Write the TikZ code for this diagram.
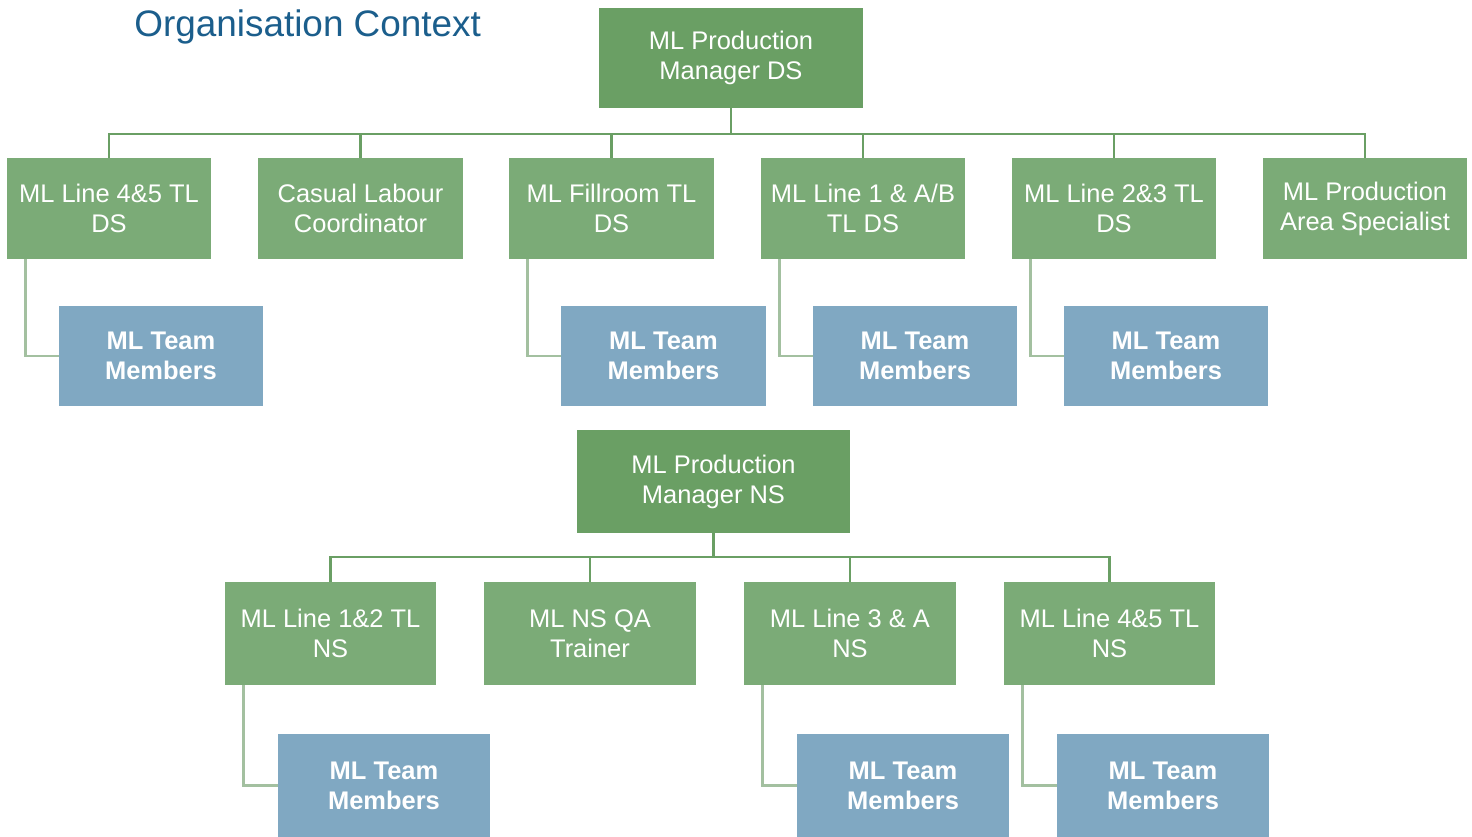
\documentclass[tikz,border=0pt]{standalone}
\usepackage{fontspec}
\setmainfont{Liberation Sans}
\usetikzlibrary{positioning}

\definecolor{mgrgreen}{HTML}{6A9F64}
\definecolor{leadgreen}{HTML}{7BAB77}
\definecolor{teamblue}{HTML}{80A8C2}
\definecolor{sidegreen}{HTML}{A3C0A0}
\definecolor{titleblue}{HTML}{1B5E8C}

\tikzset{
  manager/.style={fill=mgrgreen, text=white, align=center, inner sep=0pt,
    font=\fontsize{14.5}{17}\selectfont},
  lead/.style={fill=leadgreen, text=white, align=center, inner sep=0pt,
    minimum height=2.02cm, font=\fontsize{14.5}{17}\selectfont},
  team/.style={fill=teamblue, text=white, align=center, inner sep=0pt,
    minimum height=2cm, font=\fontsize{14.5}{17}\selectfont\bfseries},
  bus/.style={draw=mgrgreen, line width=1.6pt},
  side/.style={draw=sidegreen, line width=1.6pt}
}

\begin{document}
\begin{tikzpicture}[x=0.02cm, y=-0.02cm]

\useasboundingbox (0,0) rectangle (1472,836);

\node[anchor=base west, inner sep=0pt, text=titleblue, font=\fontsize{21}{24}\selectfont] (title) at (134,36) {Organisation Context};

% day shift
\def\y{0}

\node[manager, minimum width=5.28cm, minimum height=2cm] (mgrds) at (731, \y + 58) {ML Production\\Manager DS};
\coordinate (busds) at (731, \y + 134);

\node[lead, minimum width=4.08cm] (ds1) at (109, \y + 208.5) {ML Line 4\&5 TL\\DS};
\node[lead, minimum width=4.1cm] (ds2) at (360.5, \y + 208.5) {Casual Labour\\Coordinator};
\node[lead, minimum width=4.1cm] (ds3) at (611.5, \y + 208.5) {ML Fillroom TL\\DS};
\node[lead, minimum width=4.08cm] (ds4) at (863, \y + 208.5) {ML Line 1 \& A/B\\TL DS};
\node[lead, minimum width=4.08cm] (ds5) at (1114, \y + 208.5) {ML Line 2\&3 TL\\DS};
\node[lead, minimum width=4.08cm] (ds6) at (1365, \y + 208.5) {ML Production\\Area Specialist};

\node[team, minimum width=4.08cm] (tmds1) at (161, \y + 356) {ML Team\\Members};
\node[team, minimum width=4.1cm] (tmds3) at (663.5, \y + 356) {ML Team\\Members};
\node[team, minimum width=4.08cm] (tmds4) at (915, \y + 356) {ML Team\\Members};
\node[team, minimum width=4.08cm] (tmds5) at (1166, \y + 356) {ML Team\\Members};

\draw[bus] (mgrds) -- (busds);
\draw[bus] (busds) -| (ds1.north);
\draw[bus] (busds) -| (ds2.north);
\draw[bus] (busds) -| (ds3.north);
\draw[bus] (busds) -| (ds4.north);
\draw[bus] (busds) -| (ds5.north);
\draw[bus] (busds) -| (ds6.north);

\draw[side] ([xshift=0.38cm]ds1.south west) |- (tmds1.west);
\draw[side] ([xshift=0.38cm]ds3.south west) |- (tmds3.west);
\draw[side] ([xshift=0.38cm]ds4.south west) |- (tmds4.west);
\draw[side] ([xshift=0.38cm]ds5.south west) |- (tmds5.west);

% night shift
\def\y{423}

\node[manager, minimum width=5.46cm, minimum height=2.06cm] (mgrns) at (713.5, \y + 58.5) {ML Production\\Manager NS};
\coordinate (busns) at (713.5, \y + 134);

\node[lead, minimum width=4.22cm, minimum height=2.06cm] (ns1) at (330.5, \y + 210.5) {ML Line 1\&2 TL\\NS};
\node[lead, minimum width=4.24cm, minimum height=2.06cm] (ns2) at (590, \y + 210.5) {ML NS QA\\Trainer};
\node[lead, minimum width=4.24cm, minimum height=2.06cm] (ns3) at (850, \y + 210.5) {ML Line 3 \& A\\NS};
\node[lead, minimum width=4.22cm, minimum height=2.06cm] (ns4) at (1109.5, \y + 210.5) {ML Line 4\&5 TL\\NS};

\node[team, minimum width=4.24cm, minimum height=2.06cm] (tmns1) at (384, \y + 362.5) {ML Team\\Members};
\node[team, minimum width=4.24cm, minimum height=2.06cm] (tmns3) at (903, \y + 362.5) {ML Team\\Members};
\node[team, minimum width=4.24cm, minimum height=2.06cm] (tmns4) at (1163, \y + 362.5) {ML Team\\Members};

\draw[bus] (mgrns) -- (busns);
\draw[bus] (busns) -| (ns1.north);
\draw[bus] (busns) -| (ns2.north);
\draw[bus] (busns) -| (ns3.north);
\draw[bus] (busns) -| (ns4.north);

\draw[side] ([xshift=0.38cm]ns1.south west) |- (tmns1.west);
\draw[side] ([xshift=0.38cm]ns3.south west) |- (tmns3.west);
\draw[side] ([xshift=0.38cm]ns4.south west) |- (tmns4.west);

\end{tikzpicture}
\end{document}
